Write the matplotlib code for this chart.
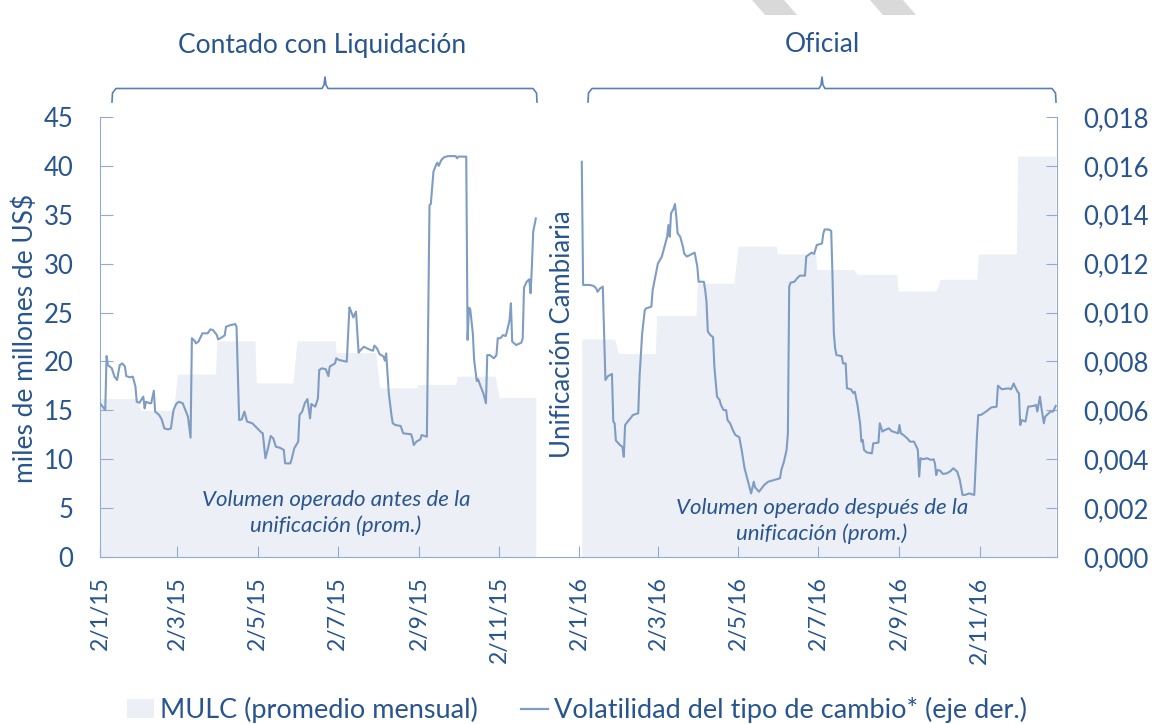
import numpy as np
import pandas as pd
import matplotlib
matplotlib.use("Agg")
import matplotlib.pyplot as plt
import matplotlib.dates as mdates
from matplotlib.patches import Polygon, Patch
from matplotlib.lines import Line2D
from matplotlib.ticker import FuncFormatter, MultipleLocator

plt.rcParams['font.family'] = ['Lato', 'DejaVu Sans']

azul_txt = '#28558f'
azul_eje = '#92abd0'
azul_linea = '#7f9cc3'
gris_area = '#eceff5'

# MULC, promedio mensual (miles de millones de US$)
meses15 = ['2015-01', '2015-02', '2015-03', '2015-04', '2015-05', '2015-06',
           '2015-07', '2015-08', '2015-09', '2015-10', '2015-11']
mulc15 = [16.2, 15.0, 18.7, 22.1, 17.8, 22.1, 20.9, 17.3, 17.65, 18.5, 16.3]
meses16 = ['2016-01', '2016-02', '2016-03', '2016-04', '2016-05', '2016-06',
           '2016-07', '2016-08', '2016-09', '2016-10', '2016-11', '2016-12']
mulc16 = [22.3, 20.8, 24.7, 28.0, 31.8, 31.0, 29.4, 28.9, 27.2, 28.4, 31.0, 41.0]

# volatilidad del tipo de cambio (eje der.), fechas d/m
vol15_fechas = ['2/1', '6/1', '7/1', '8/1', '11/1', '13/1', '15/1', '17/1', '19/1', '21/1',
                '22/1', '25/1', '27/1', '29/1', '30/1', '1/2', '4/2', '5/2', '6/2', '9/2',
                '10/2', '12/2', '13/2', '16/2', '18/2', '20/2', '23/2', '25/2', '27/2', '1/3',
                '3/3', '6/3', '8/3', '10/3', '12/3', '13/3', '15/3', '16/3', '18/3', '21/3',
                '25/3', '27/3', '29/3', '1/4', '2/4', '5/4', '7/4', '8/4', '11/4', '15/4',
                '16/4', '18/4', '20/4', '22/4', '23/4', '24/4', '28/4', '30/4', '3/5', '5/5',
                '6/5', '8/5', '10/5', '12/5', '14/5', '16/5', '19/5', '22/5', '23/5', '27/5',
                '28/5', '30/5', '2/6', '3/6', '5/6', '7/6', '9/6', '11/6', '12/6', '15/6',
                '17/6', '18/6', '20/6', '23/6', '25/6', '26/6', '30/6', '1/7', '3/7', '9/7',
                '11/7', '12/7', '14/7', '16/7', '18/7', '19/7', '22/7', '27/7', '29/7', '30/7',
                '1/8', '3/8', '6/8', '7/8', '8/8', '10/8', '12/8', '13/8', '15/8', '19/8',
                '21/8', '27/8', '28/8', '29/8', '31/8', '3/9', '4/9', '8/9', '10/9', '11/9',
                '13/9', '15/9', '16/9', '17/9', '19/9', '21/9', '24/9', '30/9', '1/10', '2/10',
                '8/10', '9/10', '10/10', '11/10', '13/10', '14/10', '16/10', '17/10', '19/10', '21/10',
                '23/10', '24/10', '26/10', '29/10', '31/10', '1/11', '3/11', '5/11', '7/11', '8/11',
                '10/11', '11/11', '12/11', '15/11', '19/11', '20/11', '21/11', '23/11', '25/11', '26/11',
                '27/11', '28/11', '30/11']
vol15 = [0.00629, 0.00601, 0.00822, 0.00785, 0.00772, 0.00738, 0.00724, 0.00785, 0.00792, 0.00779,
         0.00740, 0.00735, 0.00738, 0.00697, 0.00635, 0.00631, 0.00656, 0.00608, 0.00635, 0.00629,
         0.00629, 0.00680, 0.00595, 0.00581, 0.00563, 0.00526, 0.00522, 0.00526, 0.00601, 0.00626,
         0.00635, 0.00629, 0.00601, 0.00574, 0.00488, 0.00895, 0.00885, 0.00874, 0.00881, 0.00915,
         0.00915, 0.00931, 0.00929, 0.00908, 0.00890, 0.00899, 0.00907, 0.00942, 0.00948, 0.00953,
         0.00942, 0.00560, 0.00563, 0.00595, 0.00574, 0.00554, 0.00547, 0.00536, 0.00520, 0.00509,
         0.00506, 0.00404, 0.00445, 0.00495, 0.00485, 0.00451, 0.00447, 0.00438, 0.00383, 0.00383,
         0.00400, 0.00445, 0.00472, 0.00581, 0.00595, 0.00629, 0.00646, 0.00567, 0.00626, 0.00615,
         0.00649, 0.00765, 0.00772, 0.00768, 0.00740, 0.00779, 0.00792, 0.00813, 0.00806, 0.00799,
         0.01021, 0.01008, 0.00980, 0.01004, 0.00836, 0.00844, 0.00860, 0.00847, 0.00844, 0.00865,
         0.00854, 0.00830, 0.00820, 0.00803, 0.00833, 0.00670, 0.00581, 0.00547, 0.00540, 0.00536,
         0.00506, 0.00502, 0.00485, 0.00458, 0.00472, 0.00481, 0.00499, 0.00492, 0.01440, 0.01444,
         0.01576, 0.01604, 0.01613, 0.01600, 0.01624, 0.01635, 0.01640, 0.01640, 0.01631, 0.01638,
         0.01638, 0.00888, 0.01020, 0.01015, 0.00915, 0.00806, 0.00720, 0.00727, 0.00697, 0.00670,
         0.00629, 0.00826, 0.00826, 0.00813, 0.00826, 0.00895, 0.00895, 0.00908, 0.00904, 0.00922,
         0.00970, 0.01038, 0.00881, 0.00867, 0.00877, 0.00895, 0.01102, 0.01126, 0.01136, 0.01079,
         0.01188, 0.01331, 0.01385]

vol16_fechas = ['4/1', '5/1', '10/1', '13/1', '15/1', '16/1', '18/1', '20/1', '22/1', '24/1',
                '27/1', '28/1', '29/1', '30/1', '1/2', '2/2', '4/2', '5/2', '6/2', '8/2',
                '10/2', '12/2', '16/2', '17/2', '19/2', '21/2', '22/2', '26/2', '27/2', '29/2',
                '2/3', '5/3', '7/3', '9/3', '10/3', '11/3', '12/3', '14/3', '15/3', '16/3',
                '17/3', '19/3', '21/3', '22/3', '24/3', '30/3', '1/4', '2/4', '6/4', '7/4',
                '8/4', '9/4', '11/4', '13/4', '14/4', '16/4', '18/4', '19/4', '21/4', '23/4',
                '24/4', '26/4', '28/4', '30/4', '3/5', '5/5', '7/5', '10/5', '12/5', '14/5',
                '15/5', '18/5', '20/5', '22/5', '25/5', '3/6', '4/6', '6/6', '8/6', '9/6',
                '10/6', '11/6', '14/6', '16/6', '18/6', '22/6', '23/6', '27/6', '29/6', '1/7',
                '5/7', '6/7', '7/7', '10/7', '12/7', '13/7', '14/7', '15/7', '16/7', '20/7',
                '21/7', '23/7', '24/7', '27/7', '29/7', '30/7', '1/8', '3/8', '4/8', '5/8',
                '6/8', '8/8', '12/8', '13/8', '17/8', '18/8', '20/8', '22/8', '25/8', '27/8',
                '1/9', '2/9', '3/9', '5/9', '8/9', '10/9', '13/9', '15/9', '16/9', '17/9',
                '18/9', '20/9', '23/9', '26/9', '28/9', '29/9', '30/9', '1/10', '3/10', '5/10',
                '8/10', '11/10', '13/10', '16/10', '18/10', '20/10', '22/10', '25/10', '29/10', '30/10',
                '31/10', '1/11', '3/11', '7/11', '11/11', '15/11', '16/11', '19/11', '24/11', '26/11',
                '28/11', '29/11', '1/12', '2/12', '3/12', '4/12', '7/12', '9/12', '13/12', '15/12',
                '16/12', '18/12', '19/12', '21/12', '22/12', '26/12', '28/12', '30/12']
vol16 = [0.01617, 0.01113, 0.01113, 0.01109, 0.01099, 0.01085, 0.01099, 0.01106, 0.00724, 0.00740,
         0.00749, 0.00554, 0.00547, 0.00476, 0.00465, 0.00458, 0.00451, 0.00410, 0.00540, 0.00554,
         0.00567, 0.00581, 0.00588, 0.00738, 0.00915, 0.01010, 0.01017, 0.01024, 0.01092, 0.01147,
         0.01201, 0.01229, 0.01270, 0.01310, 0.01358, 0.01310, 0.01406, 0.01426, 0.01444, 0.01392,
         0.01324, 0.01310, 0.01270, 0.01242, 0.01229, 0.01245, 0.01188, 0.01126, 0.01126, 0.01092,
         0.01045, 0.00922, 0.00908, 0.00899, 0.00779, 0.00656, 0.00642, 0.00622, 0.00601, 0.00601,
         0.00560, 0.00547, 0.00520, 0.00499, 0.00490, 0.00431, 0.00363, 0.00301, 0.00260, 0.00308,
         0.00285, 0.00267, 0.00281, 0.00295, 0.00308, 0.00322, 0.00356, 0.00390, 0.00438, 0.00506,
         0.01106, 0.01122, 0.01126, 0.01140, 0.01151, 0.01151, 0.01229, 0.01245, 0.01240, 0.01276,
         0.01283, 0.01324, 0.01340, 0.01340, 0.01334, 0.01147, 0.00915, 0.00854, 0.00826, 0.00822,
         0.00792, 0.00792, 0.00690, 0.00686, 0.00670, 0.00676, 0.00622, 0.00547, 0.00472, 0.00479,
         0.00438, 0.00428, 0.00424, 0.00465, 0.00468, 0.00547, 0.00513, 0.00520, 0.00526, 0.00515,
         0.00506, 0.00540, 0.00506, 0.00499, 0.00485, 0.00472, 0.00472, 0.00451, 0.00438, 0.00329,
         0.00404, 0.00400, 0.00404, 0.00397, 0.00400, 0.00383, 0.00335, 0.00356, 0.00353, 0.00340,
         0.00342, 0.00352, 0.00363, 0.00349, 0.00315, 0.00254, 0.00254, 0.00260, 0.00254, 0.00370,
         0.00492, 0.00581, 0.00581, 0.00595, 0.00612, 0.00615, 0.00701, 0.00686, 0.00690, 0.00686,
         0.00710, 0.00697, 0.00676, 0.00670, 0.00540, 0.00560, 0.00554, 0.00615, 0.00618, 0.00622,
         0.00595, 0.00656, 0.00615, 0.00547, 0.00574, 0.00595, 0.00595, 0.00618]

fechas15 = pd.to_datetime([f + '/2015' for f in vol15_fechas], format='%d/%m/%Y')
fechas16 = pd.to_datetime([f + '/2016' for f in vol16_fechas], format='%d/%m/%Y')


def escalones(meses, valores, inicio):
    xs, ys = [], []
    for m, v in zip(meses, valores):
        dias = pd.bdate_range(m + '-01', pd.Period(m).end_time.normalize())
        xs += [max(dias[0], inicio), dias[-1]]
        ys += [v, v]
    return xs, ys


W, H = 1154, 724
fig = plt.figure(figsize=(W / 100, H / 100), dpi=100)
ax = fig.add_axes([100 / W, 1 - 557 / H, 957 / W, 440 / H])
ax2 = ax.twinx()

for meses, vals, ini in [(meses15, mulc15, fechas15[0]), (meses16, mulc16, fechas16[0])]:
    xs, ys = escalones(meses, vals, ini)
    ax.fill_between(xs, ys, 0, color=gris_area, lw=0)

ax2.plot(fechas15, vol15, color=azul_linea, lw=1.5)
ax2.plot(fechas16, vol16, color=azul_linea, lw=1.5)

ax.set_xlim(pd.Timestamp('2015-01-02'), pd.Timestamp('2016-12-31'))
ax.set_ylim(0, 45)
ax2.set_ylim(0, 0.018)
ax.yaxis.set_major_locator(MultipleLocator(5))
ax2.yaxis.set_major_locator(MultipleLocator(0.002))
ax2.yaxis.set_major_formatter(FuncFormatter(lambda v, p: f'{v:.3f}'.replace('.', ',')))

ax.xaxis.set_major_locator(mdates.MonthLocator(bymonth=[1, 3, 5, 7, 9, 11], bymonthday=2))
ax.xaxis.set_major_formatter(FuncFormatter(
    lambda v, p: (lambda d: f'{d.day}/{d.month}/{d.year % 100}')(mdates.num2date(v))))

for a in (ax, ax2):
    a.spines['top'].set_visible(False)
    for s in a.spines.values():
        s.set_color(azul_eje)
ax2.spines['left'].set_visible(False)
ax2.spines['bottom'].set_visible(False)
ax.spines['right'].set_visible(False)

ax.tick_params(axis='y', direction='in', length=9, color=azul_eje, labelcolor=azul_txt,
               labelsize=18.5, pad=19)
ax.tick_params(axis='x', direction='in', length=8, color=azul_eje, labelcolor=azul_txt,
               labelsize=16.5, pad=14, labelrotation=90)
ax2.tick_params(axis='y', direction='in', length=8, color=azul_eje, labelcolor=azul_txt,
                labelsize=18.5, pad=19)


def px(x, y):
    return x / W, 1 - y / H


fig.text(*px(25, 338), 'miles de millones de US$', rotation=90, ha='center', va='center',
         color=azul_txt, fontsize=19)
fig.text(*px(562, 334), 'Unificación Cambiaria', rotation=90, ha='center', va='center',
         color=azul_txt, fontsize=18.5)
fig.text(*px(322, 45), 'Contado con Liquidación', ha='center', va='center',
         color=azul_txt, fontsize=19)
fig.text(*px(822, 45), 'Oficial', ha='center', va='center', color=azul_txt, fontsize=19)
fig.text(*px(336, 513), 'Volumen operado antes de la\nunificación (prom.)', ha='center',
         va='center', color=azul_txt, fontsize=16, style='italic', linespacing=1.35)
fig.text(*px(822, 521), 'Volumen operado después de la\nunificación (prom.)', ha='center',
         va='center', color=azul_txt, fontsize=16, style='italic', linespacing=1.35)

# llaves superiores
for x0, xm, x1 in [(112, 325, 537), (588, 822, 1056)]:
    pts = [(x0, 102), (x0 + 0.5, 93), (x0 + 4, 88.5), (xm - 3, 88.5), (xm - 1, 85),
           (xm, 77), (xm + 1, 85), (xm + 3, 88.5), (x1 - 4, 88.5), (x1 - 0.5, 93), (x1, 102)]
    xs = [p[0] / W for p in pts]
    ys = [1 - p[1] / H for p in pts]
    fig.add_artist(Line2D(xs, ys, color='#5b80b8', lw=1.2, transform=fig.transFigure))

# franjas decorativas
for pts in [[(752, 0), (784, 0), (797, 15), (765, 15)], [(870, 0), (903, 0), (916, 15), (883, 15)]]:
    fig.add_artist(Polygon([px(*p) for p in pts], closed=True, color='#d9d9d9', lw=0,
                           transform=fig.transFigure))

handles = [Patch(facecolor=gris_area, edgecolor='none'),
           Line2D([], [], color=azul_linea, lw=1.6)]
leg = fig.legend(handles, ['MULC (promedio mensual)', 'Volatilidad del tipo de cambio* (eje der.)'],
                 loc='center', bbox_to_anchor=px(577, 710), ncol=2, frameon=False,
                 fontsize=19.5, handlelength=1.0, handletextpad=0.2, columnspacing=1.6)
for t in leg.get_texts():
    t.set_color(azul_txt)

fig.savefig('out.png', dpi=100)
